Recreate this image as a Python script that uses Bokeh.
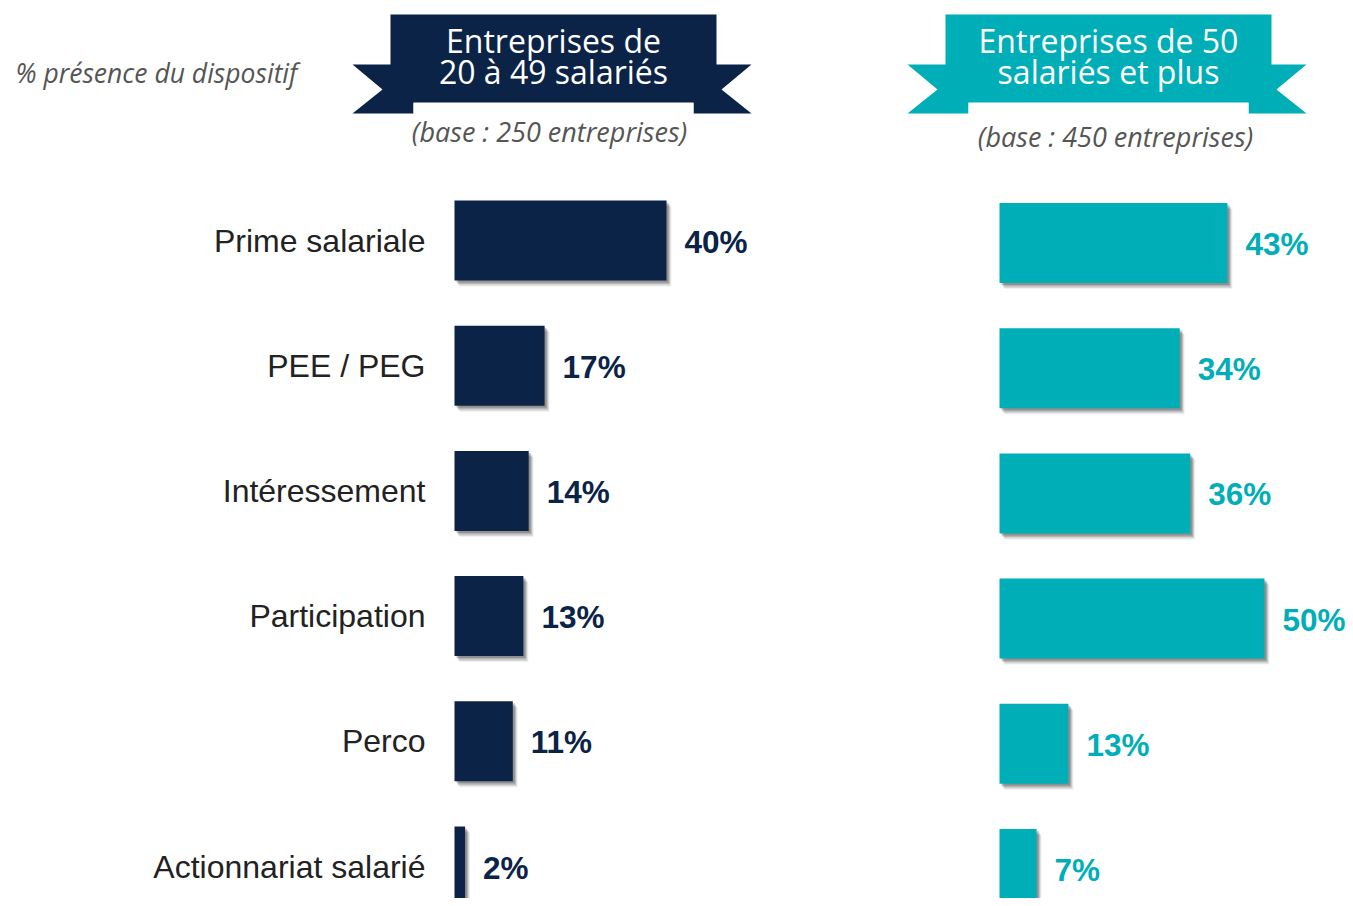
from bokeh.plotting import figure
from bokeh.models import Range1d, ColumnDataSource
from bokeh.core.properties import value
from bokeh.embed import file_html
from bokeh.resources import INLINE

# ---------------- data ----------------
categories = ["Prime salariale", "PEE / PEG", "Intéressement", "Participation",
              "Perco", "Actionnariat salarié"]
small_firms = [40, 17, 14, 13, 11, 2]      # Entreprises de 20 à 49 salariés
large_firms = [43, 34, 36, 50, 13, 7]      # Entreprises de 50 salariés et plus
small_title = ["Entreprises de", "20 à 49 salariés"]
large_title = ["Entreprises de 50", "salariés et plus"]
small_base = "(base : 250 entreprises)"
large_base = "(base : 450 entreprises)"
measure_note = "% présence du dispositif"

NAVY = "#0b2346"
TEAL = "#00aeb8"
GREY = "#555555"

W, H = 1345, 898
M = 0

p = figure(width=W, height=H, output_backend="svg", toolbar_location=None,
           x_range=Range1d(M, M + W), y_range=Range1d(M + H, M),
           min_border=0, outline_line_color=None)
p.axis.visible = False
p.grid.visible = False
p.background_fill_color = "white"

# layout constants (pixels)
PX_PER_PCT = 5.3
LEFT_ZERO = 454
RIGHT_ZERO = 999
ROW0 = 240.0
ROW_STEP = 125.2
BAR_H = 80.0

p.extra_x_ranges = {
    "left": Range1d((M - LEFT_ZERO) / PX_PER_PCT, (M + W - LEFT_ZERO) / PX_PER_PCT),
    "right": Range1d((M - RIGHT_ZERO) / PX_PER_PCT, (M + W - RIGHT_ZERO) / PX_PER_PCT),
}
p.extra_y_ranges = {
    "rows_l": Range1d((M + H - ROW0) / ROW_STEP, (M - ROW0) / ROW_STEP),
    "rows_r": Range1d((M + H - ROW0 - 2.5) / ROW_STEP, (M - ROW0 - 2.5) / ROW_STEP),
}

# ---------------- header ribbons ----------------
def ribbon(x0, x1, color):
    tl = 38; tin = 23; notch = 30
    xs = [
        [x0 - tl, x0 + tin, x0 + tin, x0 - tl, x0 - tl + notch],
        [x1 - tin, x1 + tl - 3, x1 + tl - 3 - notch, x1 + tl - 3, x1 - tin],
        [x0, x1, x1, x0],
    ]
    ys = [
        [64, 64, 113, 113, 89],
        [64, 64, 89, 113, 113],
        [14, 14, 102, 102],
    ]
    p.patches(xs, ys, fill_color=color, line_color=None)
    p.quad(left=[x0 + tin], right=[x1 - tin], bottom=[113], top=[102.5],
           fill_color="white", line_color=None)

ribbon(390, 716, NAVY)
ribbon(945, 1271, TEAL)

title_font = value("Open Sans")
for cx, lines in ((553, small_title), (1108, large_title)):
    p.text(x=[cx, cx], y=[39.5, 71], text=lines, text_color="white",
           text_font=title_font, text_font_size="32px",
           text_align="center", text_baseline="middle")

p.text(x=[549], y=[130.5], text=[small_base], text_color=GREY,
       text_font=value("Open Sans"), text_font_style="italic",
       text_font_size="27px", text_align="center", text_baseline="middle")
p.text(x=[1115], y=[135.5], text=[large_base], text_color=GREY,
       text_font=value("Open Sans"), text_font_style="italic",
       text_font_size="27px", text_align="center", text_baseline="middle")
p.text(x=[15], y=[72.5], text=[measure_note], text_color=GREY,
       text_font=value("Open Sans"), text_font_style="italic",
       text_font_size="26.5px", text_align="left", text_baseline="middle")

# ---------------- bars ----------------
idx = list(range(len(categories)))
bh = BAR_H / ROW_STEP

def panel(values, xr, yr, color):
    src = ColumnDataSource(dict(y=idx, v=values, lab=[f"{v}%" for v in values]))
    for dx, dy, a in ((5, 6, 0.06), (4, 5, 0.10), (3, 3.5, 0.16), (2, 2, 0.20)):
        p.hbar(y=[i + dy / ROW_STEP for i in idx], left=dx / PX_PER_PCT,
               right=[v + dx / PX_PER_PCT for v in values], height=bh,
               fill_color="black", fill_alpha=a, line_color=None,
               x_range_name=xr, y_range_name=yr)
    p.hbar(y="y", left=0, right="v", height=bh, source=src,
           fill_color=color, line_color=None, x_range_name=xr, y_range_name=yr)
    p.text(x="v", y="y", text="lab", source=src, x_offset=18, y_offset=1,
           text_color=color, text_font=value("Liberation Sans"),
           text_font_style="bold", text_font_size="31.5px",
           text_baseline="middle", text_align="left",
           x_range_name=xr, y_range_name=yr)

panel(small_firms, "left", "rows_l", NAVY)
panel(large_firms, "right", "rows_r", TEAL)

p.text(x=[0] * len(categories), y=idx, text=categories, x_offset=-29,
       text_color="#222222", text_font=value("Liberation Sans"),
       text_font_size="32px", text_align="right", text_baseline="middle",
       x_range_name="left", y_range_name="rows_l")

open("out.html", "w").write(file_html(p, INLINE))
